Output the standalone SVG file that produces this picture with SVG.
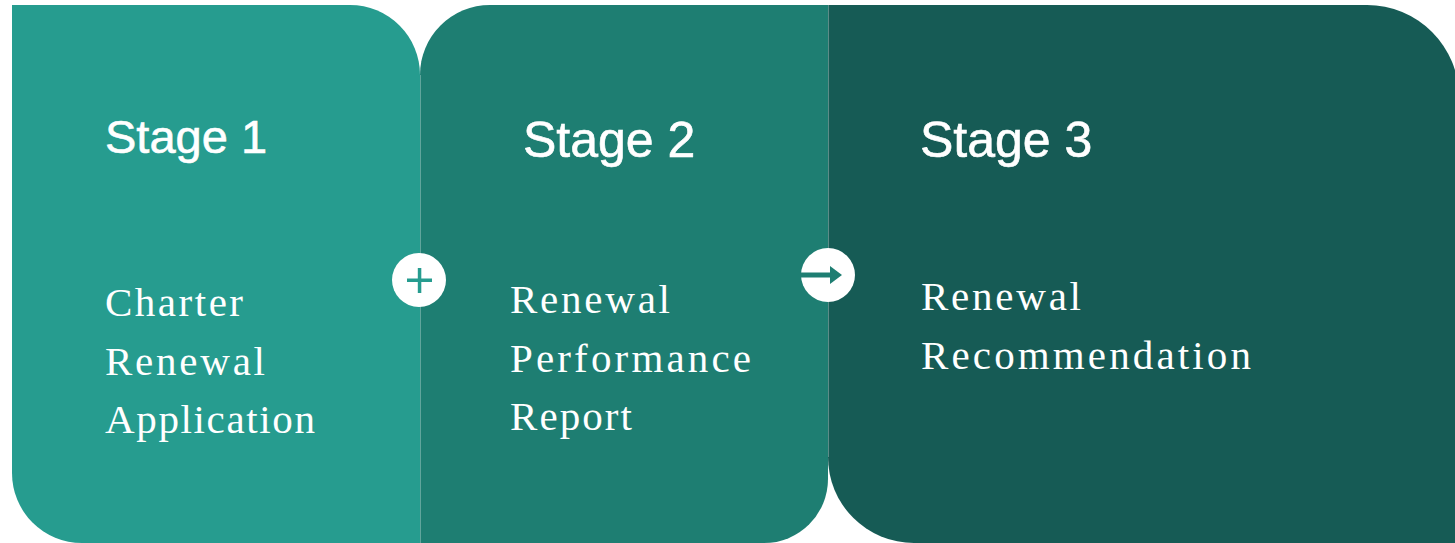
<svg xmlns="http://www.w3.org/2000/svg" width="1455" height="543" viewBox="0 0 1455 543">
  <style>
    .head { font-family: "Liberation Sans", Arial, sans-serif; fill: #ffffff; stroke: #ffffff; stroke-width: 0.6px; }
    .body { font-family: "Liberation Serif", "Times New Roman", serif; fill: #ffffff; font-size: 41px; }
    .seam { stroke: #ffffff; stroke-opacity: 0.3; stroke-width: 1; }
  </style>
  <rect width="1455" height="543" fill="#ffffff"/>
  <g id="stage1">
    <path d="M12,5 H350 A70,70 0 0 1 420,75 V543 H82 A70,70 0 0 1 12,473 Z" fill="#269C8F"/>
    <text class="head" x="105" y="153" font-size="47">Stage 1</text>
    <text class="body" x="105" y="316" textLength="138" lengthAdjust="spacing">Charter</text>
    <text class="body" x="105" y="375" textLength="160" lengthAdjust="spacing">Renewal</text>
    <text class="body" x="105" y="433" textLength="210" lengthAdjust="spacing">Application</text>
  </g>
  <g id="stage2">
    <path d="M490,5 H828 V479 A64,64 0 0 1 764,543 H420 V75 A70,70 0 0 1 490,5 Z" fill="#1E7E72"/>
    <text class="head" x="523" y="157" font-size="50">Stage 2</text>
    <text class="body" x="510" y="313" textLength="160" lengthAdjust="spacing">Renewal</text>
    <text class="body" x="510" y="372" textLength="241" lengthAdjust="spacing">Performance</text>
    <text class="body" x="510" y="430" textLength="122" lengthAdjust="spacing">Report</text>
  </g>
  <g id="stage3">
    <path d="M828,5 H1367 A92,92 0 0 1 1459,97 V543 H914 A86,86 0 0 1 828,457 Z" fill="#165B55"/>
    <text class="head" x="920" y="157" font-size="50">Stage 3</text>
    <text class="body" x="921" y="310" textLength="160" lengthAdjust="spacing">Renewal</text>
    <text class="body" x="921" y="369" textLength="330" lengthAdjust="spacing">Recommendation</text>
  </g>
  <g id="connectors">
    <line class="seam" x1="420.5" y1="75" x2="420.5" y2="543"/>
    <line class="seam" x1="828.5" y1="5" x2="828.5" y2="457"/>
    <g id="plus">
      <circle cx="419" cy="280" r="27" fill="#ffffff"/>
      <rect x="407" y="278.5" width="25" height="3.5" fill="#269C8F"/>
      <rect x="417.8" y="268" width="3.5" height="25" fill="#269C8F"/>
    </g>
    <g id="arrow">
      <circle cx="828" cy="275" r="27" fill="#ffffff"/>
      <rect x="801" y="272.5" width="31" height="5" fill="#1E7E72"/>
      <polygon points="830,266 842,275 830,284" fill="#1E7E72"/>
    </g>
  </g>
</svg>
